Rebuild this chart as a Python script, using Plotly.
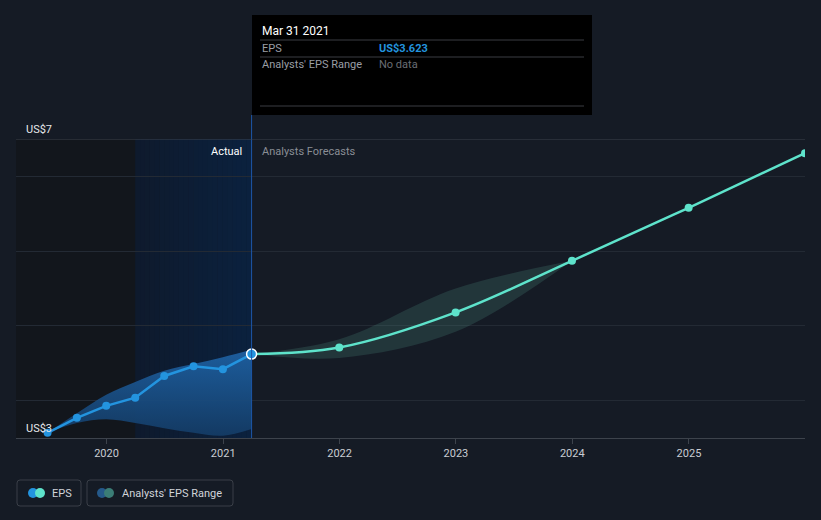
import plotly.graph_objects as go
import datetime as _dt

# ---------------- data ----------------
actual_dates = ["2019-06-30", "2019-09-30", "2019-12-31", "2020-03-31",
                "2020-06-30", "2020-09-30", "2020-12-31", "2021-03-31"]
actual_eps = [2.57, 2.77, 2.93, 3.04, 3.33, 3.46, 3.42, 3.623]
actual_low = [2.57, 2.70, 2.75, 2.70, 2.63, 2.57, 2.53, 2.62]
actual_high = [2.57, 2.83, 3.08, 3.25, 3.40, 3.49, 3.58, 3.68]

forecast_dates = ["2021-03-31", "2021-12-31", "2022-12-31", "2023-12-31",
                  "2024-12-31", "2025-12-31"]
forecast_eps = [3.623, 3.71, 4.18, 4.87, 5.58, 6.31]

range_dates = ["2021-03-31", "2021-12-31", "2022-12-31", "2023-12-31"]
range_low = [3.623, 3.57, 3.92, 4.87]
range_high = [3.623, 3.82, 4.50, 4.87]

x_tick_vals = ["2020-01-01", "2021-01-01", "2022-01-01", "2023-01-01",
               "2024-01-01", "2025-01-01"]
x_tick_text = ["2020", "2021", "2022", "2023", "2024", "2025"]
y_grid_vals = [3, 4, 5, 6]
y_label_vals = [2.5, 6.5]
y_label_text = ["US$3", "US$7"]

x_range = ["2019-03-23", "2025-12-31"]
y_range = [2.5, 6.5]
highlight_start = "2020-03-31"
now_date = "2021-03-31"

# ---------------- styling ----------------
BG = "#151b25"
W, H = 821, 520
L, R, T, B = 16, 16, 139, 82
PW = W - L - R
PH = H - T - B
FONT = "Roboto"

def px2x(px):
    return (px - L) / PW

def px2y(py):
    return (H - B - py) / PH

fig = go.Figure()

# actual range band
fig.add_trace(go.Scatter(x=actual_dates, y=actual_low, mode="lines",
                         line=dict(width=0, shape="spline"), hoverinfo="skip",
                         showlegend=False))
fig.add_trace(go.Scatter(x=actual_dates, y=actual_high, mode="lines",
                         line=dict(width=0, shape="spline"), fill="tonexty",
                         fillcolor="rgba(33,110,190,0.55)",
                         fillgradient=dict(type="vertical",
                                           colorscale=[[0, "rgba(20,60,102,0.92)"],
                                                       [1, "rgba(30,98,165,0.92)"]]),
                         hoverinfo="skip", showlegend=False))
# forecast range band
fig.add_trace(go.Scatter(x=range_dates, y=range_low, mode="lines",
                         line=dict(width=0, shape="spline"), hoverinfo="skip",
                         showlegend=False))
fig.add_trace(go.Scatter(x=range_dates, y=range_high, mode="lines",
                         line=dict(width=0, shape="spline"), fill="tonexty",
                         fillcolor="rgba(80,150,135,0.22)", hoverinfo="skip",
                         showlegend=False))
# actual EPS
fig.add_trace(go.Scatter(x=actual_dates, y=actual_eps,
                         mode="lines+markers",
                         line=dict(color="#2394df", width=2.5),
                         marker=dict(size=8, color="#2394df"),
                         hoverinfo="skip", showlegend=False))
# forecast EPS
fig.add_trace(go.Scatter(x=forecast_dates, y=forecast_eps, mode="lines",
                         line=dict(color="#5ee3cb", width=2.5, shape="spline"),
                         hoverinfo="skip", showlegend=False))
fig.add_trace(go.Scatter(x=forecast_dates[1:], y=forecast_eps[1:], mode="markers",
                         marker=dict(size=8, color="#5ee3cb"),
                         hoverinfo="skip", showlegend=False))
# highlighted current point
fig.add_trace(go.Scatter(x=[actual_dates[-1]], y=[actual_eps[-1]], mode="markers",
                         marker=dict(size=10, color="#2394df",
                                     line=dict(color="#ffffff", width=1.5)),
                         hoverinfo="skip", showlegend=False))

shapes = []
# dark past region
shapes.append(dict(type="rect", xref="x", yref="paper", x0=x_range[0], x1=highlight_start,
                   y0=0, y1=1, fillcolor="#12161c", line=dict(width=0), layer="below"))
# highlight region (fine stepwise gradient)
c_start = (14, 26, 45)
c_end = (11, 33, 62)
d0 = _dt.date.fromisoformat(highlight_start)
d1 = _dt.date.fromisoformat(now_date)
n = 24
for i in range(n):
    f = i / (n - 1)
    col = "rgb({},{},{})".format(*[round(a + (b - a) * f) for a, b in zip(c_start, c_end)])
    a = d0 + (d1 - d0) * i / n
    b = d0 + (d1 - d0) * (i + 1) / n + _dt.timedelta(days=1)
    if b > d1:
        b = d1
    shapes.append(dict(type="rect", xref="x", yref="paper", x0=a.isoformat(), x1=b.isoformat(),
                       y0=0, y1=1, fillcolor=col, line=dict(width=0), layer="below"))
# now line
shapes.append(dict(type="line", xref="x", yref="paper", x0=now_date, x1=now_date,
                   y0=0, y1=px2y(115), line=dict(color="#1d56a8", width=1)))
# top line
shapes.append(dict(type="line", xref="paper", yref="y", x0=0, x1=1, y0=y_range[1], y1=y_range[1],
                   line=dict(color="#3d434c", width=1)))

# tooltip
shapes.append(dict(type="rect", xref="paper", yref="paper", x0=px2x(252), x1=px2x(592),
                   y0=px2y(115), y1=px2y(15), fillcolor="#000000", line=dict(width=0)))
for yy in (40, 57, 106):
    shapes.append(dict(type="line", xref="paper", yref="paper", x0=px2x(260), x1=px2x(584),
                       y0=px2y(yy), y1=px2y(yy), line=dict(color="#3a3d42", width=1)))

# legend boxes
def rounded(x0, y0, x1, y1, r=3):
    X0, X1 = px2x(x0), px2x(x1)
    Y0, Y1 = px2y(y1), px2y(y0)
    rx, ry = r / PW, r / PH
    return (f"M{X0+rx},{Y1} L{X1-rx},{Y1} Q{X1},{Y1} {X1},{Y1-ry} "
            f"L{X1},{Y0+ry} Q{X1},{Y0} {X1-rx},{Y0} L{X0+rx},{Y0} "
            f"Q{X0},{Y0} {X0},{Y0+ry} L{X0},{Y1-ry} Q{X0},{Y1} {X0+rx},{Y1} Z")

shapes.append(dict(type="path", xref="paper", yref="paper", path=rounded(17, 480, 81, 506),
                   line=dict(color="#3a3f48", width=1), fillcolor="rgba(0,0,0,0)"))
shapes.append(dict(type="path", xref="paper", yref="paper", path=rounded(87, 480, 233, 506),
                   line=dict(color="#3a3f48", width=1), fillcolor="rgba(0,0,0,0)"))

def dot(cx, cy, color, r=5):
    return dict(type="circle", xref="paper", yref="paper", xsizemode="pixel", ysizemode="pixel",
                xanchor=px2x(cx), yanchor=px2y(cy), x0=-r, x1=r, y0=-r, y1=r,
                fillcolor=color, line=dict(width=0))

shapes += [dot(33, 493, "#2394df"), dot(40, 493, "#5ee3cb"),
           dot(102, 493, "#25598a"), dot(109, 493, "#3b7d76")]

annotations = []
def txt(text, px, py, color, size=11, anchor="left", bold=False):
    annotations.append(dict(text=f"<b>{text}</b>" if bold else text, xref="paper", yref="paper",
                            x=px2x(px), y=px2y(py), xanchor=anchor, yanchor="middle",
                            showarrow=False, font=dict(family=FONT, size=size, color=color)))

txt("Mar 31 2021", 260, 31, "#ffffff", 12)
txt("EPS", 260, 48, "#9a9ea5", 11)
txt("US$3.623", 377, 48, "#2394df", 11, bold=True)
txt("Analysts' EPS Range", 260, 65, "#9a9ea5", 11)
txt("No data", 377, 65, "#6a6e75", 11)
txt("Actual", 244, 151, "#ffffff", 11, anchor="right")
txt("Analysts Forecasts", 260, 151, "#8a8e95", 11)
txt("EPS", 50, 493, "#d0d4da", 11)
txt("Analysts' EPS Range", 120, 493, "#d0d4da", 11)

# y labels (top/bottom of range)
for v, t in zip(y_label_vals, y_label_text):
    annotations.append(dict(text=t, xref="paper", yref="y", x=px2x(24), y=v,
                            xanchor="left", yanchor="bottom", yshift=1, showarrow=False,
                            font=dict(family=FONT, size=11, color="#e6e8eb")))

fig.update_layout(
    width=W, height=H,
    margin=dict(l=L, r=R, t=T, b=B),
    paper_bgcolor=BG, plot_bgcolor=BG,
    showlegend=False,
    shapes=shapes, annotations=annotations,
    xaxis=dict(type="date", range=x_range, tickvals=x_tick_vals, ticktext=x_tick_text,
               showgrid=False, zeroline=False, showline=True, linecolor="#3d434c",
               ticks="outside", ticklen=5, tickcolor="#3d434c",
               tickfont=dict(family=FONT, size=11, color="#c9cdd3")),
    yaxis=dict(range=y_range, tickvals=y_grid_vals, showticklabels=False,
               showgrid=True, gridcolor="#232a34", gridwidth=1, zeroline=False),
    hovermode=False,
)

fig.write_html("out.html")
